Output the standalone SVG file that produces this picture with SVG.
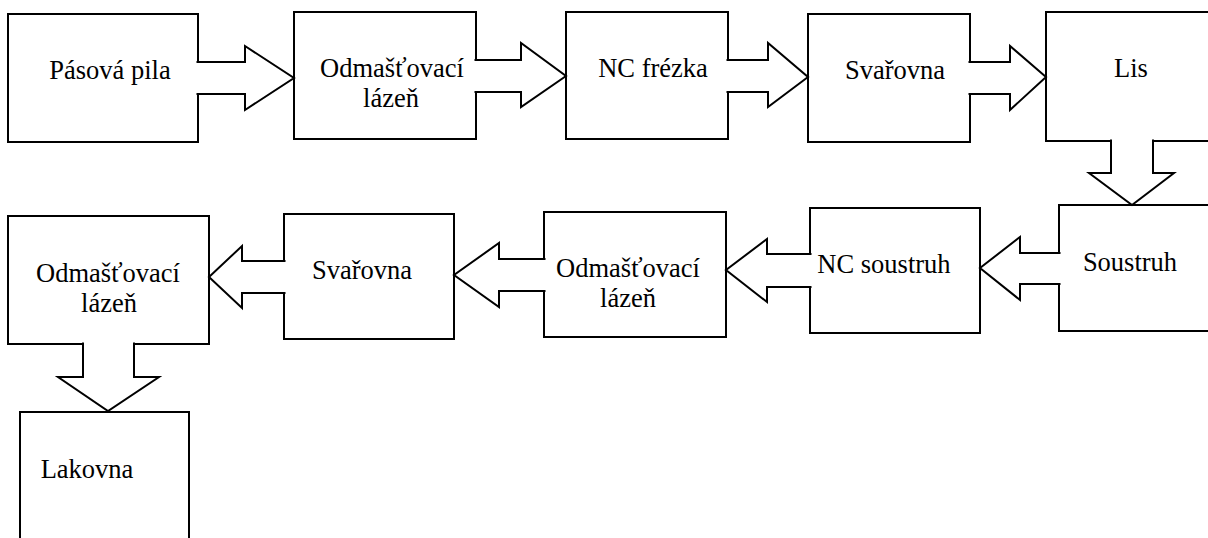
<svg xmlns="http://www.w3.org/2000/svg" width="1208" height="538" viewBox="0 0 1208 538">
<style>
.box{fill:#fff;stroke:#000;stroke-width:2}
.arr{fill:#fff;stroke:#000;stroke-width:2;stroke-linejoin:miter}
.t{font-size:26.5px;fill:#000;text-anchor:middle}
</style>
<rect width="1208" height="538" fill="#fff"/>
<g font-family="'Liberation Serif', 'Times New Roman', Times, serif">
<g id="n1"><rect class="box" x="8" y="14" width="190" height="128"/><text class="t" x="110" y="79">Pásová pila</text></g>
<g id="n2"><rect class="box" x="294" y="12" width="182" height="127"/><text class="t" x="392" y="77">Odmašťovací</text><text class="t" x="391" y="107">lázeň</text></g>
<g id="n3"><rect class="box" x="566" y="12" width="162" height="127"/><text class="t" x="653" y="77">NC frézka</text></g>
<g id="n4"><rect class="box" x="808" y="14" width="162" height="128"/><text class="t" x="895" y="79">Svařovna</text></g>
<g id="n5"><rect class="box" x="1046" y="12" width="172" height="129"/><text class="t" x="1131" y="77">Lis</text></g>
<g id="n6"><rect class="box" x="1059" y="205" width="159" height="126"/><text class="t" x="1130" y="271">Soustruh</text></g>
<g id="n7"><rect class="box" x="810" y="208" width="170" height="125"/><text class="t" x="884" y="273">NC soustruh</text></g>
<g id="n8"><rect class="box" x="544" y="212" width="182" height="125"/><text class="t" x="628" y="277">Odmašťovací</text><text class="t" x="628" y="307">lázeň</text></g>
<g id="n9"><rect class="box" x="284" y="214" width="170" height="125"/><text class="t" x="362" y="279">Svařovna</text></g>
<g id="n10"><rect class="box" x="8" y="216" width="201" height="128"/><text class="t" x="108" y="282">Odmašťovací</text><text class="t" x="109" y="312">lázeň</text></g>
<g id="n11"><rect class="box" x="20" y="412" width="169" height="140"/><text class="t" x="87" y="478">Lakovna</text></g>
</g>
<g id="connectors">
<path class="arr" d="M196.5,62 H245 V46 L294,78 L245,110 V94 H196.5"/>
<path class="arr" d="M474.5,60 H521 V43 L566,76 L521,107 V92 H474.5"/>
<path class="arr" d="M726.5,60 H768 V43 L808,77 L768,107 V92 H726.5"/>
<path class="arr" d="M968.5,62 H1010 V46 L1046,77 L1010,110 V94 H968.5"/>
<path class="arr" d="M1111,139.5 V173 H1089 L1132,205 L1174,173 H1153 V139.5"/>
<path class="arr" d="M1060.5,253 H1020 V237 L980,268 L1020,300 V284 H1060.5"/>
<path class="arr" d="M811.5,254 H767 V239 L726,270 L767,302 V287 H811.5"/>
<path class="arr" d="M545.5,259 H499 V243 L454,275 L499,307 V291 H545.5"/>
<path class="arr" d="M285.5,261 H242 V246 L209,277 L242,308 V293 H285.5"/>
<path class="arr" d="M83,342.5 V377 H58 L108,411 L159,377 H134 V342.5"/>
</g>
</svg>
